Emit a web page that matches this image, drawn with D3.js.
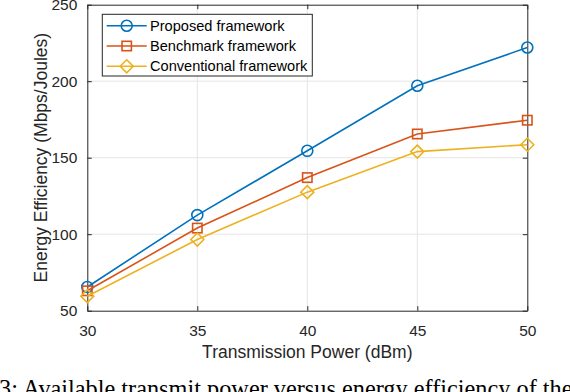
<!DOCTYPE html>
<html>
<head>
<meta charset="utf-8">
<script src="https://cdn.jsdelivr.net/npm/d3@7"></script>
<style>
  html, body { margin: 0; padding: 0; background: #fff; }
  svg { display: block; }
</style>
</head>
<body>
<div id="chart"></div>
<script>
// data
const power = [30, 35, 40, 45, 50];
const proposed = [65.5, 112.5, 154.5, 197, 222];
const benchmark = [63, 104, 137, 165.5, 174.5];
const conventional = [59.5, 96.5, 127.5, 154, 158.5];
const seriesNames = ["Proposed framework", "Benchmark framework", "Conventional framework"];
const xTicks = [30, 35, 40, 45, 50];
const yTicks = [50, 100, 150, 200, 250];

const width = 570, height = 392;
const plotLeft = 87.3, plotRight = 527.3, plotTop = 4.7, plotBottom = 310.7;
const axisColor = "#262626";
const colors = ["#0072BD", "#D95319", "#EDB120"];
const sans = "'Liberation Sans', Arial, Helvetica, sans-serif";

const svg = d3.select("#chart").append("svg")
  .attr("width", width)
  .attr("height", height);

svg.append("rect").attr("width", width).attr("height", height).attr("fill", "#fff");

const x = d3.scaleLinear().domain([30, 50]).range([plotLeft, plotRight]);
const y = d3.scaleLinear().domain([50, 250]).range([plotBottom, plotTop]);

// grid lines
const grid = svg.append("g").attr("stroke", "#e5e5e5").attr("stroke-width", 1);
grid.selectAll("line.gx")
  .data(xTicks.slice(1, -1))
  .join("line")
  .attr("x1", d => x(d)).attr("x2", d => x(d))
  .attr("y1", plotTop).attr("y2", plotBottom);
grid.selectAll("line.gy")
  .data(yTicks.slice(1, -1))
  .join("line")
  .attr("x1", plotLeft).attr("x2", plotRight)
  .attr("y1", d => y(d)).attr("y2", d => y(d));

// axes (ticks pointing inward, matlab style)
const tickLen = 4.5;
const xAxis = svg.append("g")
  .attr("transform", `translate(0,${plotBottom})`)
  .call(d3.axisBottom(x).tickValues(xTicks).tickSizeInner(-tickLen).tickSizeOuter(0).tickPadding(14));
const xAxisTop = svg.append("g")
  .attr("transform", `translate(0,${plotTop})`)
  .call(d3.axisTop(x).tickValues(xTicks).tickSizeInner(-tickLen).tickSizeOuter(0).tickFormat(""));
const yAxis = svg.append("g")
  .attr("transform", `translate(${plotLeft},0)`)
  .call(d3.axisLeft(y).tickValues(yTicks).tickSizeInner(-tickLen).tickSizeOuter(0).tickPadding(10));
const yAxisRight = svg.append("g")
  .attr("transform", `translate(${plotRight},0)`)
  .call(d3.axisRight(y).tickValues(yTicks).tickSizeInner(-tickLen).tickSizeOuter(0).tickFormat(""));

[xAxis, xAxisTop, yAxis, yAxisRight].forEach(g => {
  g.select(".domain").attr("stroke", axisColor).attr("stroke-width", 1);
  g.selectAll(".tick line").attr("stroke", axisColor).attr("stroke-width", 1);
  g.selectAll(".tick text")
    .attr("fill", axisColor)
    .style("font-family", sans)
    .style("font-size", "15.5px");
});

// axis titles
svg.append("text")
  .attr("x", (plotLeft + plotRight) / 2)
  .attr("y", 358)
  .attr("text-anchor", "middle")
  .attr("fill", axisColor)
  .style("font-family", sans)
  .style("font-size", "17.5px")
  .text("Transmission Power (dBm)");

svg.append("text")
  .attr("transform", `translate(47,${(plotTop + plotBottom) / 2}) rotate(-90)`)
  .attr("text-anchor", "middle")
  .attr("fill", axisColor)
  .style("font-family", sans)
  .style("font-size", "17.5px")
  .text("Energy Efficiency (Mbps/Joules)");

// lines + markers
const allSeries = [proposed, benchmark, conventional];
const line = d3.line().x((d, i) => x(power[i])).y(d => y(d));

function drawMarker(g, kind, cx, cy, color) {
  if (kind === 0) {
    g.append("circle").attr("cx", cx).attr("cy", cy).attr("r", 5.5)
      .attr("fill", "none").attr("stroke", color).attr("stroke-width", 1.6);
  } else if (kind === 1) {
    g.append("rect").attr("x", cx - 4.7).attr("y", cy - 4.7).attr("width", 9.4).attr("height", 9.4)
      .attr("fill", "none").attr("stroke", color).attr("stroke-width", 1.6);
  } else {
    const r = 6.5;
    g.append("path").attr("d", `M${cx},${cy - r}L${cx + r},${cy}L${cx},${cy + r}L${cx - r},${cy}Z`)
      .attr("fill", "none").attr("stroke", color).attr("stroke-width", 1.6);
  }
}

allSeries.forEach((vals, k) => {
  const g = svg.append("g");
  g.append("path").datum(vals)
    .attr("d", line)
    .attr("fill", "none")
    .attr("stroke", colors[k])
    .attr("stroke-width", 1.6);
  vals.forEach((v, i) => drawMarker(g, k, x(power[i]), y(v), colors[k]));
});

// legend
const lg = svg.append("g");
lg.append("rect")
  .attr("x", 102.3).attr("y", 14.3)
  .attr("width", 210).attr("height", 61.7)
  .attr("fill", "#fff").attr("stroke", axisColor).attr("stroke-width", 1);
seriesNames.forEach((name, k) => {
  const ry = 25.7 + k * 20.3;
  lg.append("line").attr("x1", 106.7).attr("x2", 146.7).attr("y1", ry).attr("y2", ry)
    .attr("stroke", colors[k]).attr("stroke-width", 1.6);
  drawMarker(lg, k, 126.7, ry, colors[k]);
  lg.append("text")
    .attr("x", 150).attr("y", ry + 5)
    .attr("fill", "#000")
    .style("font-family", sans)
    .style("font-size", "14.6px")
    .text(name);
});

// figure caption (cut off by the frame, as in the source)
svg.append("text")
  .attr("x", -1)
  .attr("y", 397)
  .attr("fill", "#000")
  .style("font-family", "'Liberation Serif', 'Times New Roman', serif")
  .style("font-size", "24.3px")
  .text("3: Available transmit power versus energy efficiency of the proposed framework");
</script>
</body>
</html>
